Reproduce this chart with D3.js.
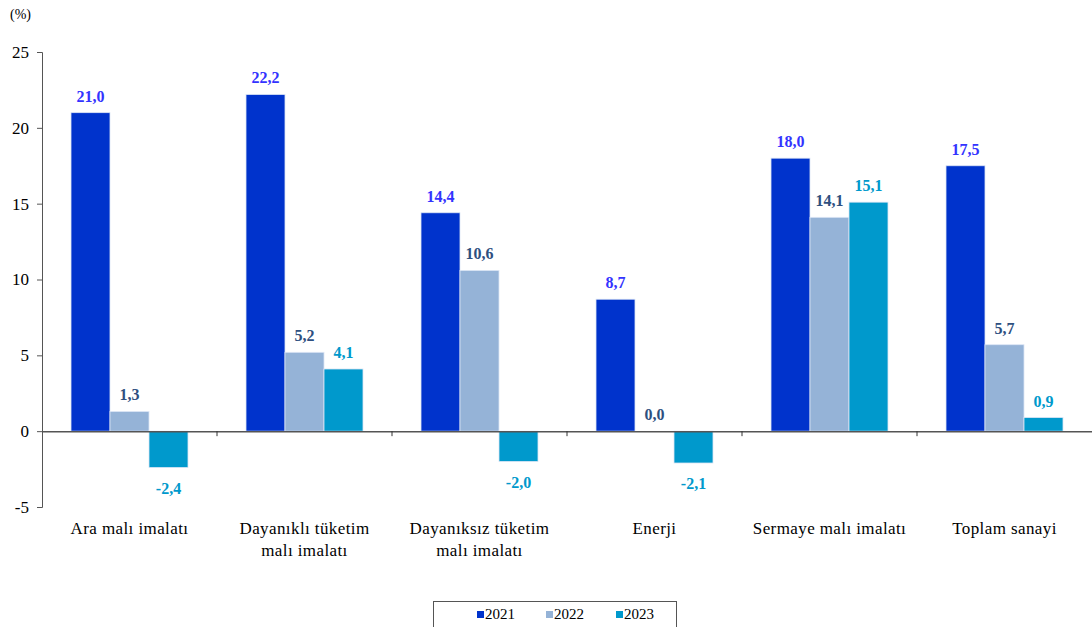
<!DOCTYPE html>
<html>
<head>
<meta charset="utf-8">
<script src="https://cdn.jsdelivr.net/npm/d3@7"></script>
<style>
  body { margin: 0; background: #fff; }
  svg text { font-family: "Liberation Serif", "Times New Roman", serif !important; }
</style>
</head>
<body>
<svg id="chart"></svg>
<script>
// data
var categories = [["Ara malı imalatı"], ["Dayanıklı tüketim", "malı imalatı"], ["Dayanıksız tüketim", "malı imalatı"], ["Enerji"], ["Sermaye malı imalatı"], ["Toplam sanayi"]];
var years = ["2021", "2022", "2023"];
var v2021 = [21.0, 22.2, 14.4, 8.7, 18.0, 17.5];
var v2022 = [1.3, 5.2, 10.6, 0.0, 14.1, 5.7];
var v2023 = [-2.4, 4.1, -2.0, -2.1, 15.1, 0.9];
var yTicks = [-5, 0, 5, 10, 15, 20, 25];

var barColors = ["#0033cc", "#95b3d7", "#0099cc"];
var labelColors = ["#3333ff", "#2e4f7f", "#0099cc"];
var series = [v2021, v2022, v2023];

var W = 1092, H = 627;
var margin = {top: 52, right: 0, bottom: 120, left: 42};
var width = W - margin.left - margin.right,
    height = H - margin.top - margin.bottom;

var svg = d3.select("#chart").attr("width", W).attr("height", H)
    .attr("font-family", "Liberation Serif, Times New Roman, serif");
var g = svg.append("g").attr("transform", "translate(" + margin.left + "," + margin.top + ")");

var x0 = d3.scaleBand().domain(d3.range(categories.length)).range([0, width]).padding(0);
var x1 = d3.scaleBand().domain(d3.range(years.length)).range([29, x0.bandwidth() - 29]).padding(0);
var y = d3.scaleLinear().domain([-5, 25]).range([height, 0]);

// y axis
var yAxis = g.append("g")
    .call(d3.axisLeft(y).tickValues(yTicks).tickSize(5).tickPadding(8).tickFormat(function (d) { return String(d); }));
yAxis.attr("font-family", null);
yAxis.select(".domain").attr("stroke", "#555");
yAxis.selectAll(".tick line").attr("stroke", "#555");
yAxis.selectAll("text").style("font-size", "17px").attr("fill", "#000");

svg.append("text").attr("x", 10).attr("y", 19).style("font-size", "14px").text("(%)");

// bars
series.forEach(function (vals, s) {
    g.append("g").selectAll("rect")
        .data(vals)
        .enter().append("rect")
        .attr("x", function (d, i) { return x0(i) + x1(s); })
        .attr("y", function (d) { return y(Math.max(0, d)); })
        .attr("width", x1.bandwidth())
        .attr("height", function (d) { return Math.abs(y(d) - y(0)); })
        .attr("fill", barColors[s])
        .attr("stroke", "#dde6f5")
        .attr("stroke-width", 0.8);

    g.append("g").selectAll("text")
        .data(vals)
        .enter().append("text")
        .attr("x", function (d, i) { return x0(i) + x1(s) + x1.bandwidth() / 2; })
        .attr("y", function (d) { return d >= 0 ? y(d) - 11 : y(d) + 26; })
        .attr("text-anchor", "middle")
        .style("font-size", "16px")
        .style("font-weight", "bold")
        .attr("fill", labelColors[s])
        .text(function (d) { return d.toFixed(1).replace(".", ","); });
});

// zero line with category ticks
var xAxis = g.append("g").attr("transform", "translate(0," + y(0) + ")")
    .call(d3.axisBottom(x0).tickValues([]).tickSizeOuter(0));
xAxis.select(".domain").attr("stroke", "#555").attr("stroke-width", 1.5);
xAxis.selectAll(".cat-tick")
    .data(d3.range(1, categories.length))
    .enter().append("line")
    .attr("x1", function (i) { return x0(i); })
    .attr("x2", function (i) { return x0(i); })
    .attr("y1", 0).attr("y2", 5)
    .attr("stroke", "#333");

// category labels
var cat = g.append("g").selectAll("text")
    .data(categories)
    .enter().append("text")
    .attr("x", function (d, i) { return x0(i) + x0.bandwidth() / 2; })
    .attr("y", height + 27)
    .attr("text-anchor", "middle")
    .style("font-size", "17px")
    .style("letter-spacing", "0.4px");
cat.selectAll("tspan")
    .data(function (d) { return d; })
    .enter().append("tspan")
    .attr("x", function () { return this.parentNode.getAttribute("x"); })
    .attr("dy", function (d, i) { return i === 0 ? 0 : 22; })
    .text(function (d) { return d; });

// legend
var legend = svg.append("g").attr("transform", "translate(433,601)");
legend.append("rect").attr("x", 0.5).attr("y", 0.5).attr("width", 243).attr("height", 30)
    .attr("fill", "none").attr("stroke", "#555");
var legendX = [44, 113, 183];
years.forEach(function (yr, s) {
    legend.append("rect").attr("x", legendX[s]).attr("y", 10).attr("width", 7).attr("height", 7)
        .attr("fill", barColors[s]);
    legend.append("text").attr("x", legendX[s] + 8).attr("y", 18)
        .style("font-size", "15px").text(yr);
});
</script>
</body>
</html>
